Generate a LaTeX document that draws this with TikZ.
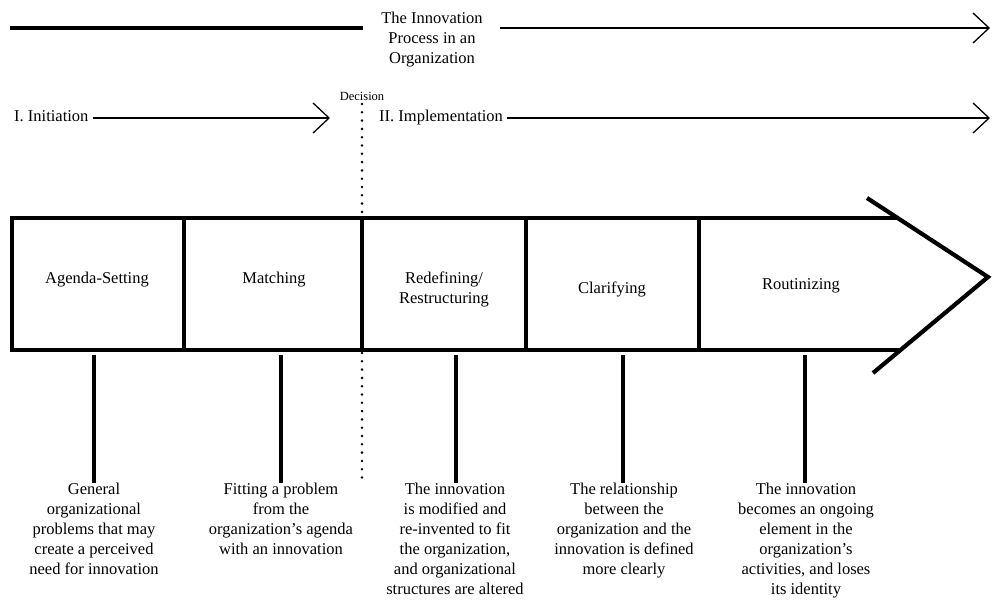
\documentclass[tikz,border=0pt]{standalone}
\usepackage{fontspec}
\setmainfont{Liberation Serif}
\usetikzlibrary{arrows.meta}
\begin{document}
\begin{tikzpicture}[x=1pt,y=-1pt,
  txt/.style={font=\fontsize{16.5}{20}\selectfont, inner sep=0pt, align=center},
  smalltxt/.style={font=\fontsize{12.5}{14}\selectfont, inner sep=0pt},
  desc/.style={txt, anchor=north},
  thinarrow/.style={line width=2.2pt, -{Straight Barb[length=16pt,width=30pt,line width=1.3pt]}},
  boxline/.style={line width=4.2pt, line join=miter},
  stem/.style={line width=3.4pt},
  decisionline/.style={line width=2.8pt, dash pattern=on 0pt off 8.3pt, line cap=round}
]
\useasboundingbox (0,0) rectangle (992,602);

% top title
\node[txt] (title) at (432,40) {The Innovation\\Process in an\\Organization};
\coordinate (tl0) at (10,28);
\coordinate (tl1) at (363,28);
\coordinate (tr0) at (500,28);
\coordinate (tr1) at (990,28);
\draw[line width=3.2pt] (tl0) -- (tl1);
\draw[thinarrow] (tr0) -- (tr1);

% phases
\node[txt, anchor=west] (init) at (14,116) {I. Initiation};
\coordinate (initend) at (330,118);
\draw[thinarrow] (init.east |- initend) ++(4,0) coordinate (initstart) -- (initend);

\node[smalltxt] (decision) at (362,96) {Decision};
\coordinate (dtop) at (362,104);
\coordinate (dbot) at (362,482);
\draw[decisionline] (dtop) -- (dbot);

\node[txt, anchor=west] (impl) at (379,118) {II. Implementation};
\coordinate (implend) at (990,118);
\draw[thinarrow] (impl.east |- implend) ++(4,0) coordinate (implstart) -- (implend);

% big arrow
\draw[boxline] (898,218) -- (12,218) -- (12,350) -- (902,350);
\draw[boxline] (867,198) -- (988,277) -- (873,373);
\foreach \x in {184,362,526,699} \draw[boxline] (\x,218) -- (\x,350);

% stage labels
\node[txt] (s1) at (97,280) {Agenda-Setting};
\node[txt] (s2) at (274,280) {Matching};
\node[txt] (s3) at (444,289) {Redefining/\\Restructuring};
\node[txt] (s4) at (612,289) {Clarifying};
\node[txt] (s5) at (801,286) {Routinizing};

% descriptions
\node[desc] (d1) at (94,483) {General\\organizational\\problems that may\\create a perceived\\need for innovation};
\node[desc] (d2) at (281,483) {Fitting a problem\\from the\\organization's agenda\\with an innovation};
\node[desc] (d3) at (455,483) {The innovation\\is modified and\\re-invented to fit\\the organization,\\and organizational\\structures are altered};
\node[desc] (d4) at (624,483) {The relationship\\between the\\organization and the\\innovation is defined\\more clearly};
\node[desc] (d5) at (806,483) {The innovation\\becomes an ongoing\\element in the\\organization's\\activities, and loses\\its identity};

% stems
\foreach \i/\x in {1/94,2/281,3/456,4/623,5/805}{
  \coordinate (c\i) at (\x,355);
  \draw[stem] (c\i) -- (c\i |- d\i.north);
}
\end{tikzpicture}
\end{document}
